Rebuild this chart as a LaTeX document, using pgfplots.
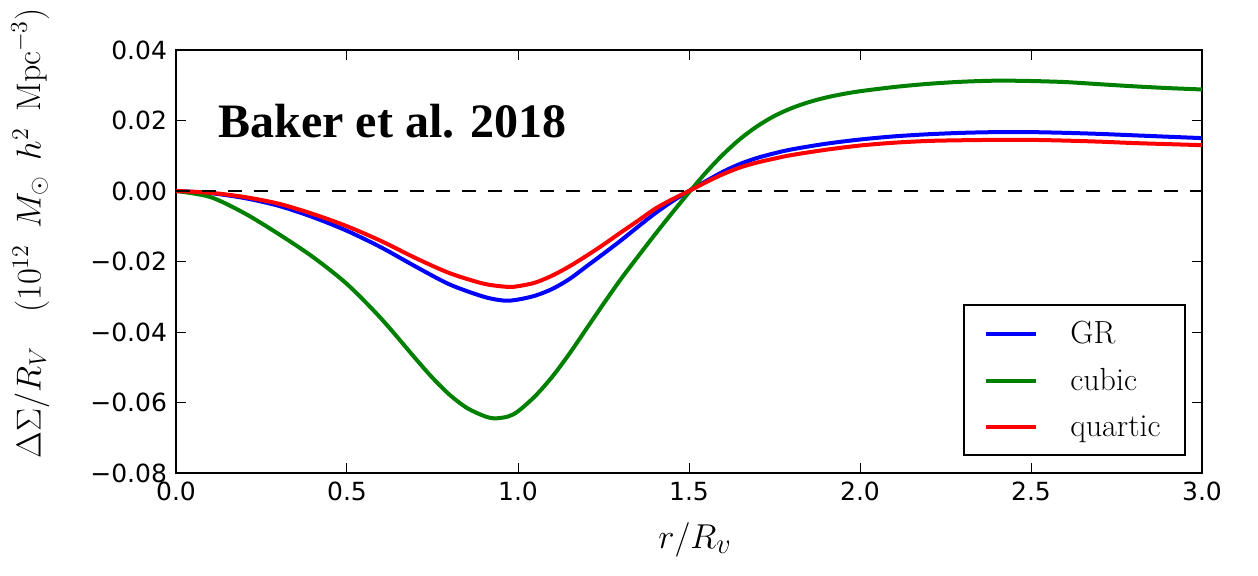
\documentclass[border=0pt]{standalone}
\usepackage{fontspec}
\usepackage{pgfplots}
\pgfplotsset{compat=1.18}
\newfontfamily\dejavu{DejaVu Sans}
\newfontfamily\timesfont{Liberation Serif}
\definecolor{mplgreen}{rgb}{0,0.5,0}
\begin{document}
\begin{tikzpicture}
\begin{axis}[
  scale only axis, width=513pt, height=211.5pt,
  at={(0,0)}, anchor=south west,
  xmin=0, xmax=3, ymin=-0.08, ymax=0.04,
  scaled y ticks=false, scaled x ticks=false,
  clip=false,
  axis line style={line width=1.2pt},
  tick align=inside,
  major tick length=5pt,
  major tick style={line width=0.5pt, black},
  xtick={0,0.5,1,1.5,2,2.5,3},
  xticklabels={0.0,0.5,1.0,1.5,2.0,2.5,3.0},
  ytick={-0.08,-0.06,-0.04,-0.02,0,0.02,0.04},
  yticklabels={−0.08,−0.06,−0.04,−0.02,0.00,0.02,0.04},
  ticklabel style={font=\dejavu\fontsize{12.5}{15}\selectfont},
  xticklabel style={yshift=-1pt},
  yticklabel style={xshift=-1pt},
  xlabel={$r/R_v$},
  xlabel style={at={(axis description cs:0.506,-0.158)}, anchor=center, font=\fontsize{19}{22}\selectfont},
  ylabel={$\Delta\Sigma/R_V\quad(10^{12}\ \,M_\odot\ \,h^2\ \,\mathrm{Mpc}^{-3})$},
  ylabel style={at={(axis description cs:-0.142,0.567)}, anchor=center, rotate=0, font=\fontsize{17}{20}\selectfont},
  legend style={at={(axis description cs:0.984,0.04)}, anchor=south east,
    draw=black, line width=1pt, font=\fontsize{16}{19}\selectfont,
    inner xsep=10pt, inner ysep=6pt, row sep=7pt,
    /tikz/every odd column/.append style={column sep=14pt}},
  legend cell align=left,
  legend image code/.code={\draw[#1, line width=2pt] (0pt,0pt) -- (25pt,0pt);},
]
\addplot[blue, line width=2pt, smooth] coordinates {
(0,0) (0.1,-0.0006) (0.2,-0.0020) (0.3,-0.0042) (0.4,-0.0074) (0.5,-0.0113)
(0.6,-0.0160) (0.7,-0.0214) (0.8,-0.0265) (0.9,-0.0300) (0.96,-0.0311)
(1.0,-0.0308) (1.05,-0.0297) (1.1,-0.0278) (1.15,-0.0250) (1.2,-0.0214)
(1.25,-0.0178) (1.3,-0.0141) (1.35,-0.0102) (1.4,-0.0064) (1.45,-0.0030)
(1.5,0.0) (1.55,0.0028) (1.6,0.0055) (1.65,0.0077) (1.7,0.0094) (1.75,0.0107)
(1.8,0.0118) (1.9,0.0134) (2.0,0.0146)
(2.1,0.0155) (2.2,0.0161) (2.3,0.0165) (2.4,0.0167) (2.5,0.0167) (2.6,0.0165)
(2.7,0.0162) (2.8,0.0158) (2.9,0.0154) (3.0,0.0150)};
\addlegendentry{GR}
\addplot[mplgreen, line width=2pt, smooth] coordinates {
(0,0) (0.1,-0.0017) (0.2,-0.0063) (0.3,-0.0122) (0.4,-0.0187) (0.5,-0.0264)
(0.6,-0.0362) (0.7,-0.0475) (0.75,-0.0530) (0.8,-0.0578) (0.85,-0.0615) (0.9,-0.0638)
(0.93,-0.0645) (0.97,-0.0640) (1.0,-0.0625) (1.05,-0.0582) (1.1,-0.0527)
(1.15,-0.0462) (1.2,-0.0391) (1.25,-0.0320) (1.3,-0.0251) (1.35,-0.0187)
(1.4,-0.0124) (1.45,-0.0063) (1.5,-0.0004) (1.55,0.0053) (1.6,0.0104)
(1.65,0.0148) (1.7,0.0184) (1.75,0.0213) (1.8,0.0235) (1.85,0.0252) (1.9,0.0265)
(1.95,0.0275) (2.0,0.0283) (2.1,0.0295) (2.2,0.0304) (2.3,0.0310) (2.4,0.0313)
(2.5,0.0312) (2.6,0.0309) (2.7,0.0303) (2.8,0.0297) (2.9,0.0292) (3.0,0.0288)};
\addlegendentry{cubic}
\addplot[red, line width=2pt, smooth] coordinates {
(0,0) (0.1,-0.0005) (0.2,-0.0017) (0.3,-0.0036) (0.4,-0.0065) (0.5,-0.0100)
(0.6,-0.0142) (0.7,-0.0190) (0.8,-0.0233) (0.9,-0.0263) (0.97,-0.0272)
(1.0,-0.0270) (1.05,-0.0260) (1.1,-0.0240) (1.15,-0.0214) (1.2,-0.0184)
(1.25,-0.0152) (1.3,-0.0118) (1.35,-0.0085) (1.4,-0.0051) (1.45,-0.0024)
(1.5,0.0) (1.55,0.0025) (1.6,0.0048) (1.65,0.0067) (1.7,0.0081) (1.75,0.0092)
(1.8,0.0102) (1.9,0.0117) (2.0,0.0129)
(2.1,0.0137) (2.2,0.0142) (2.3,0.0144) (2.4,0.0145) (2.5,0.0145) (2.6,0.0143)
(2.7,0.0140) (2.8,0.0136) (2.9,0.0133) (3.0,0.0130)};
\addlegendentry{quartic}
\addplot[black, line width=1.3pt, dash pattern=on 7pt off 6pt, forget plot] coordinates {(0,0) (3,0)};
\node[anchor=base west, inner sep=0pt, font=\timesfont\bfseries\fontsize{24}{28}\selectfont] at (axis cs:0.123,0.0153) {Baker et al. 2018};
\path (rel axis cs:0,0) ++(-88pt,-51pt) coordinate (bbsw);
\path (rel axis cs:1,1) ++(28pt,25pt) coordinate (bbne);
\end{axis}
\useasboundingbox (bbsw) rectangle (bbne);
\end{tikzpicture}
\end{document}
